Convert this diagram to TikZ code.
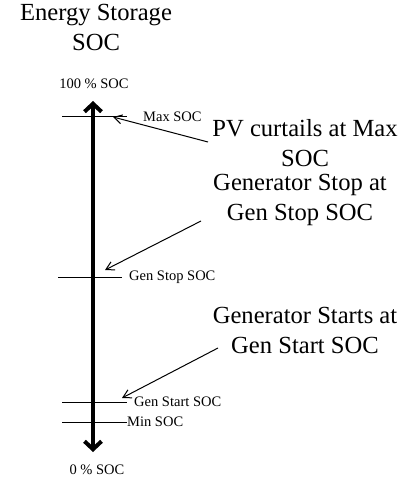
\documentclass[tikz,border=0pt]{standalone}
\usepackage{fontspec}
\setmainfont{Liberation Serif}
\usetikzlibrary{arrows.meta,positioning}

\begin{document}
\begin{tikzpicture}[
  x=1pt, y=-1pt,
  bigtext/.style={font=\fontsize{24.6}{30}\selectfont, align=center, inner sep=0pt},
  socmark/.style={font=\fontsize{14.5}{17}\selectfont, inner sep=0pt},
  levelline/.style={draw=black, line width=1pt},
  socaxis/.style={{Straight Barb[length=8pt,width=17pt]}-{Straight Barb[length=8pt,width=17pt]}, line width=4pt},
  pointer/.style={-{Straight Barb[length=8pt,width=9pt]}, line width=1pt}
]
  \useasboundingbox (0,0) rectangle (404,478);

  \node[bigtext, anchor=base] (title) at (96,51) {Energy Storage\\SOC};

  \node[socmark, anchor=base] (full) at (94,89) {100 \% SOC};
  \node[socmark, anchor=base] (empty) at (97,474) {0 \% SOC};
  \coordinate (axtop) at (93,101);
  \coordinate (axbot) at (93,452);
  \draw[socaxis] (axbot) -- (axtop);

  \coordinate (maxl) at (62,117);
  \coordinate (maxr) at (127,117);
  \coordinate (stopl) at (58,277);
  \coordinate (stopr) at (122,277);
  \coordinate (startl) at (62,402);
  \coordinate (startr) at (127,402);
  \coordinate (minl) at (62,422);
  \coordinate (minr) at (127,422);
  \draw[levelline] (maxl) -- (maxr);
  \draw[levelline] (stopl) -- (stopr);
  \draw[levelline] (startl) -- (startr);
  \draw[levelline] (minl) -- (minr);

  \node[socmark, anchor=west] (maxlbl) at (143,117) {Max SOC};
  \node[socmark, anchor=west] (stoplbl) at (129,277) {Gen Stop SOC};
  \node[socmark, anchor=west] (startlbl) at (134,402) {Gen Start SOC};
  \node[socmark, anchor=west] (minlbl) at (127,422) {Min SOC};

  \node[bigtext, anchor=base] (pv) at (305,167) {PV curtails at Max\\SOC};
  \node[bigtext, anchor=base] (genstop) at (300,220) {Generator Stop at\\Gen Stop SOC};
  \node[bigtext, anchor=base] (genstart) at (305,353) {Generator Starts at\\Gen Start SOC};

  \coordinate (pvfrom) at (208,142);
  \coordinate (maxtip) at (113,117);
  \coordinate (stopfrom) at (201,221);
  \coordinate (stoptip) at (105,270);
  \coordinate (startfrom) at (218,348);
  \coordinate (starttip) at (122,398);
  \draw[pointer] (pvfrom) -- (maxtip);
  \draw[pointer] (stopfrom) -- (stoptip);
  \draw[pointer] (startfrom) -- (starttip);
\end{tikzpicture}
\end{document}
